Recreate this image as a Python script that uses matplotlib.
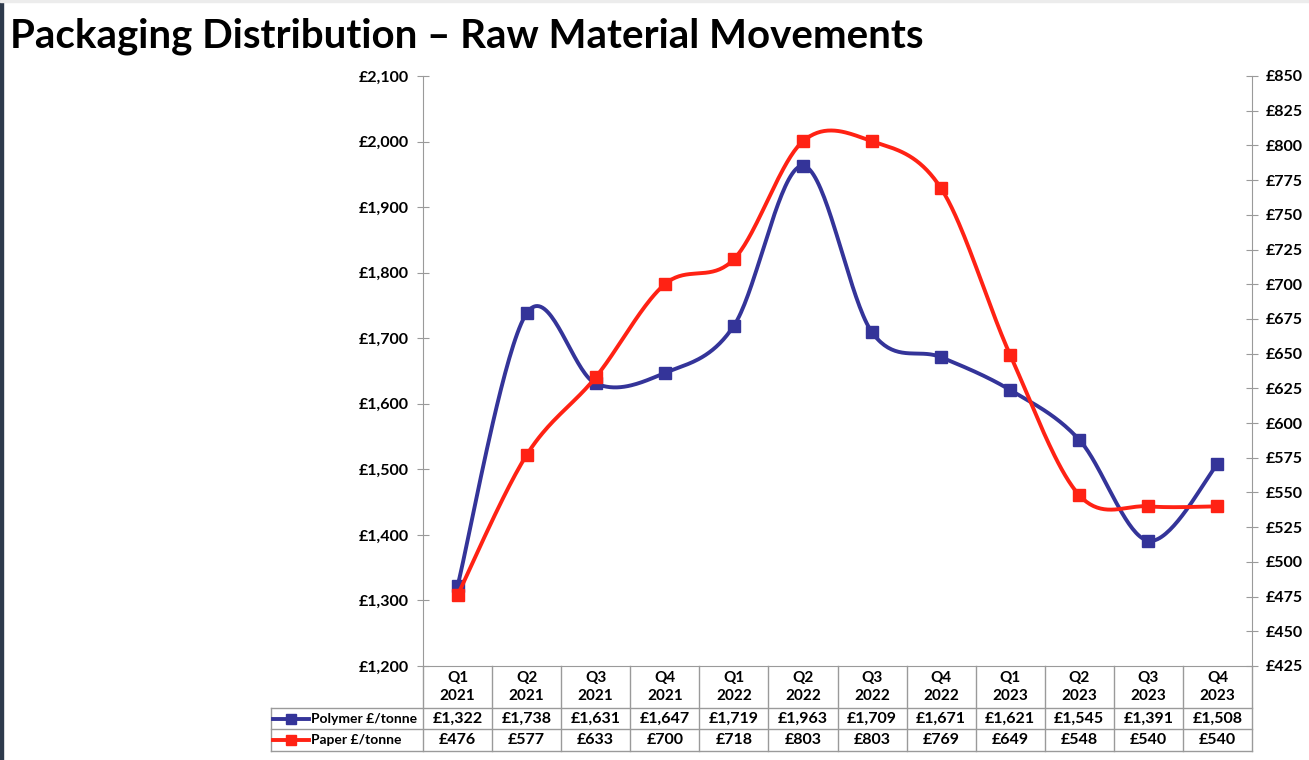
import numpy as np
import matplotlib
matplotlib.use("Agg")
import matplotlib.pyplot as plt
from matplotlib import transforms
from matplotlib.ticker import FuncFormatter
from matplotlib.patches import Rectangle

quarters = ["Q1", "Q2", "Q3", "Q4"] * 3
years = ["2021"] * 4 + ["2022"] * 4 + ["2023"] * 4
polymer = [1322, 1738, 1631, 1647, 1719, 1963, 1709, 1671, 1621, 1545, 1391, 1508]
paper = [476, 577, 633, 700, 718, 803, 803, 769, 649, 548, 540, 540]

BLUE = "#343499"
RED = "#ff2214"
GRID = "#9a9a9a"

plt.rcParams["font.family"] = ["Lato", "DejaVu Sans"]
plt.rcParams["font.weight"] = "bold"


def smooth(xv, yv, steps=40):
    # catmull-rom style bezier, roughly what excel does for "smoothed line"
    p = np.column_stack([xv, yv]).astype(float)
    n = len(p)
    out = [p[0]]
    t = np.linspace(0, 1, steps)[1:, None]
    for i in range(n - 1):
        p0 = p[i - 1] if i > 0 else p[i]
        p1, p2 = p[i], p[i + 1]
        p3 = p[i + 2] if i + 2 < n else p[i + 1]
        b1 = p1 + (p2 - p0) / 6
        b2 = p2 - (p3 - p1) / 6
        seg = ((1 - t) ** 3) * p1 + 3 * ((1 - t) ** 2) * t * b1 + 3 * (1 - t) * t ** 2 * b2 + t ** 3 * p2
        out.extend(seg)
    out = np.array(out)
    return out[:, 0], out[:, 1]


fig = plt.figure(figsize=(13.09, 7.60), dpi=100)
ax = fig.add_axes([423 / 1309, 1 - 666 / 760, 829 / 1309, 590 / 760])
ax2 = ax.twinx()

x = np.arange(len(polymer))

sx, sy = smooth(x, polymer)
ax.plot(sx, sy, color=BLUE, lw=2.8, solid_capstyle="round")
ax.plot(x, polymer, ls="none", marker="s", ms=8, color=BLUE)

sx, sy = smooth(x, paper)
ax2.plot(sx, sy, color=RED, lw=2.8, solid_capstyle="round")
ax2.plot(x, paper, ls="none", marker="s", ms=8, color=RED)

ax.set_xlim(-0.5, len(x) - 0.5)
ax.set_ylim(1200, 2100)
ax.set_yticks(range(1200, 2101, 100))
ax2.set_ylim(425, 850)
ax2.set_yticks(range(425, 851, 25))

money = FuncFormatter(lambda v, p: f"£{v:,.0f}")
ax.yaxis.set_major_formatter(money)
ax2.yaxis.set_major_formatter(money)

for a in (ax, ax2):
    a.set_xticks([])
    a.spines["top"].set_visible(False)
    a.tick_params(axis="y", direction="inout", length=8, color=GRID, labelsize=11.5, pad=6)
    for s in a.spines.values():
        s.set_color(GRID)
ax.spines["right"].set_visible(False)
ax2.spines["left"].set_visible(False)
ax2.spines["bottom"].set_visible(False)

# data table under the plot
tr = transforms.blended_transform_factory(ax.transData, ax.transAxes)
rows = [0, -0.0712, -0.1068, -0.1441]
label_left = -2.7
lkw = dict(color=GRID, lw=1, transform=tr, clip_on=False)
for y in rows[1:]:
    ax.plot([label_left, len(x) - 0.5], [y, y], **lkw)
for i in range(len(x) + 1):
    ax.plot([i - 0.5, i - 0.5], [rows[0], rows[3]], **lkw)
ax.plot([label_left, label_left], [rows[1], rows[3]], **lkw)

for i in range(len(x)):
    ax.text(i, (rows[0] + rows[1]) / 2, f"{quarters[i]}\n{years[i]}", transform=tr,
            ha="center", va="center", fontsize=11, linespacing=1.45)
    ax.text(i, (rows[1] + rows[2]) / 2, f"£{polymer[i]:,}", transform=tr,
            ha="center", va="center", fontsize=11.5)
    ax.text(i, (rows[2] + rows[3]) / 2, f"£{paper[i]:,}", transform=tr,
            ha="center", va="center", fontsize=11.5)

for (y0, y1), col, name in [((rows[1], rows[2]), BLUE, "Polymer £/tonne"),
                            ((rows[2], rows[3]), RED, "Paper £/tonne")]:
    ym = (y0 + y1) / 2
    ax.plot([-2.67, -2.15], [ym, ym], color=col, lw=2.8, transform=tr, clip_on=False)
    ax.plot([-2.41], [ym], marker="s", ms=7, color=col, transform=tr, clip_on=False)
    ax.text(-2.12, ym, name, transform=tr, ha="left", va="center", fontsize=10)

fig.text(10 / 1309, 1 - 36 / 760, "Packaging Distribution – Raw Material Movements",
         fontsize=29, fontweight="bold", va="center", ha="left")

# slide frame bits
fig.add_artist(Rectangle((0, 0), 3 / 1309, 1, transform=fig.transFigure, color="#2e3a4c"))
fig.add_artist(Rectangle((0, 1 - 2 / 760), 1, 2 / 760, transform=fig.transFigure, color="#ececec"))

fig.savefig("out.png", dpi=100, facecolor="white")
